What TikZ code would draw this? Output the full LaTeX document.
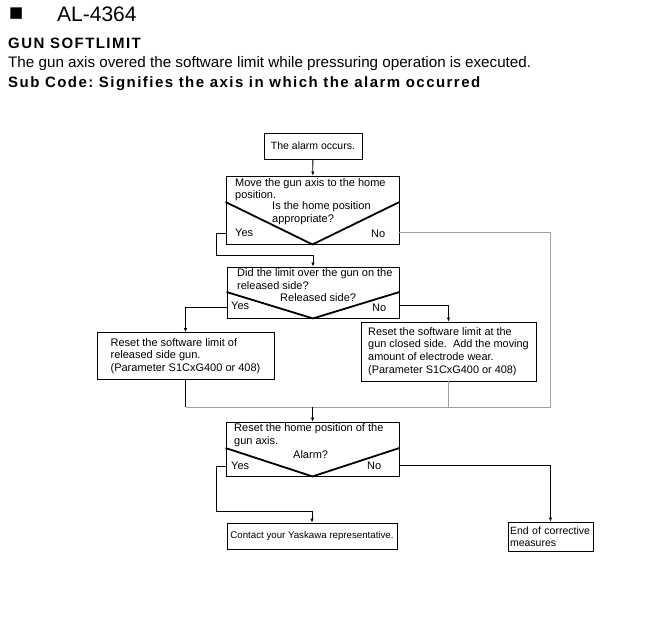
\documentclass[tikz,border=0pt]{standalone}
\usepackage{fontspec}
\setmainfont{Liberation Sans}
\newfontfamily\symbolfont{DejaVu Sans}
\newfontfamily\wideboldfont[LetterSpace=9.7]{Liberation Sans Bold}
\usetikzlibrary{arrows.meta}
\frenchspacing

\begin{document}
\begin{tikzpicture}[x=1pt, y=-1pt, font=\fontsize{11}{12.5}\selectfont]
\tikzstyle{boxStyle}=[draw, line width=0.9pt, inner sep=0pt]
\tikzstyle{textStyle}=[inner sep=0pt, anchor=west, align=left]
\tikzstyle{vStyle}=[line width=1.8pt, line join=miter]
\tikzstyle{flowLine}=[line width=0.8pt]
\tikzstyle{grayLine}=[line width=0.8pt, color=gray!75]
\tikzstyle{arrowLine}=[flowLine, -{Latex[length=4pt, width=3.5pt]}]
\useasboundingbox (0,0) rectangle (650,624);
\fill[white] (0,0) rectangle (650,624);

% header
\node[inner sep=0pt, anchor=west] (bullet) at (9,14) {\symbolfont\fontsize{15}{15}\selectfont ■};
\node[textStyle, anchor=base west, font=\fontsize{21}{21}\selectfont] (alarmCode) at (57,21) {AL-4364};
\node[textStyle, anchor=base west, font=\wideboldfont\fontsize{15}{15}\selectfont] (alarmName) at (8,48) {GUN SOFTLIMIT};
\node[textStyle, anchor=base west, font=\fontsize{15.2}{15}\selectfont] (alarmText) at (8,67) {The gun axis overed the software limit while pressuring operation is executed.};
\node[textStyle, anchor=base west, font=\wideboldfont\fontsize{15}{15}\selectfont] (subCode) at (8,87) {Sub Code: Signifies the axis in which the alarm occurred};

% boxes
\node[boxStyle, minimum width=98pt, minimum height=26pt, font=\fontsize{10.5}{12}\selectfont] (occursBox) at (313,146) {The alarm occurs.};
\node[boxStyle, minimum width=173pt, minimum height=68pt] (moveBox) at (312.5,210) {};
\node[boxStyle, minimum width=172pt, minimum height=51pt] (limitBox) at (313,292.5) {};
\node[boxStyle, align=left, minimum width=177pt, minimum height=47pt] (releasedBox) at (185.5,356) {Reset the software limit of\\released side gun.\\(Parameter S1CxG400 or 408)};
\node[boxStyle, align=left, minimum width=175pt, minimum height=59pt, font=\fontsize{10.9}{12.8}\selectfont] (closedBox) at (448.5,351.5) {Reset the software limit at the\\gun closed side.~ Add the moving\\amount of electrode wear.\\(Parameter S1CxG400 or 408)};
\node[boxStyle, minimum width=173pt, minimum height=54pt] (homeBox) at (312.5,449) {};
\node[boxStyle, minimum width=170pt, minimum height=26pt, font=\fontsize{9.7}{12}\selectfont] (contactBox) at (312,536) {Contact your Yaskawa representative.};
\node[boxStyle, text width=81pt, inner xsep=2pt, minimum height=29pt, font=\fontsize{10.5}{11.5}\selectfont] (endBox) at (550.5,536.5) {End of corrective\\measures};

% texts of the decision boxes
\node[textStyle] (moveText) at (235,189.5) {Move the gun axis to the home\\position.};
\node[textStyle] (moveAsk) at (272,213) {Is the home position\\appropriate?};
\node[textStyle] (moveYesText) at (235,233) {Yes};
\node[textStyle] (moveNoText) at (371,234) {No};
\node[textStyle] (limitText) at (237,279) {Did the limit over the gun on the\\released side?};
\node[textStyle] (limitAsk) at (280,298) {Released side?};
\node[textStyle] (limitYesText) at (231,306) {Yes};
\node[textStyle] (limitNoText) at (372,308) {No};
\node[textStyle] (homeText) at (234,435) {Reset the home position of the\\gun axis.};
\node[textStyle] (homeAsk) at (293,455) {Alarm?};
\node[textStyle] (homeYesText) at (231,466) {Yes};
\node[textStyle] (homeNoText) at (367,466) {No};

\draw[vStyle] (moveBox.west |- 0,202) -- (moveBox.south) -- (moveBox.east |- 0,202);
\draw[vStyle] (limitBox.west |- 0,292) -- (limitBox.south) -- (limitBox.east |- 0,292);
\draw[vStyle] (homeBox.west |- 0,448) -- (homeBox.south) -- (homeBox.east |- 0,448);

% connectors
\coordinate (moveYes) at (moveBox.west |- 0,233);
\coordinate (moveNo) at (moveBox.east |- 0,232);
\coordinate (limitYes) at (limitBox.west |- 0,307);
\coordinate (limitNo) at (limitBox.east |- 0,305);
\coordinate (homeYes) at (homeBox.west |- 0,466);
\coordinate (homeNo) at (homeBox.east |- 0,465);
\coordinate (mergeLeft) at (releasedBox.south |- 0,407);
\coordinate (mergeRight) at (550,407);

\draw[arrowLine] (occursBox) -- (moveBox);
\draw[arrowLine] (moveYes) -| (216,255) -| (limitBox.north);
\draw[arrowLine] (limitYes) -| (releasedBox.north);
\draw[arrowLine] (limitNo) -| (closedBox.north);
\draw[grayLine] (moveNo) -| (mergeRight) -- (mergeLeft);
\draw[flowLine] (releasedBox.south) -- (mergeLeft);
\draw[grayLine] (closedBox.south) -- (closedBox.south |- mergeLeft);
\draw[arrowLine] (homeBox.north |- mergeLeft) -- (homeBox.north);
\draw[arrowLine] (homeYes) -| (216,511) -| (contactBox.north);
\draw[arrowLine] (homeNo) -| (endBox.north);
\end{tikzpicture}
\end{document}
